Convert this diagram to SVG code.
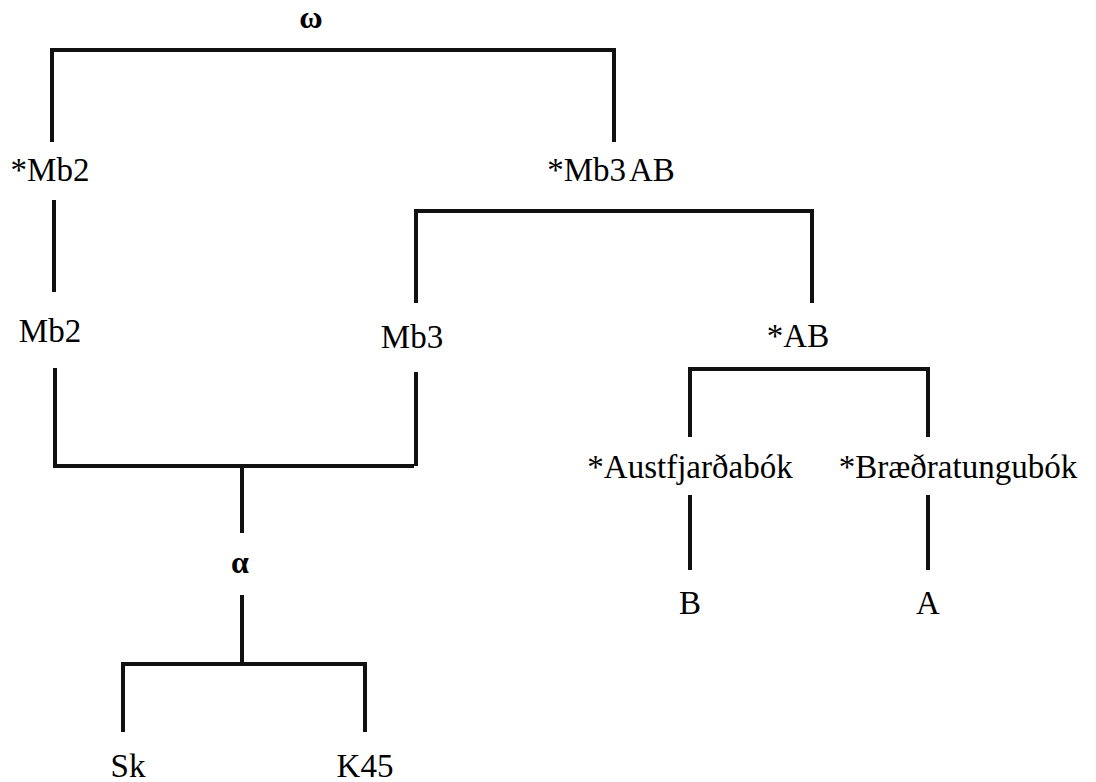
<svg xmlns="http://www.w3.org/2000/svg" width="1096" height="782" viewBox="0 0 1096 782">
<style>
.c{stroke:#111;stroke-width:4;fill:none}
</style>
<rect width="1096" height="782" fill="#fff"/>
<g id="connectors" class="c">
<path d="M52 142V50H614V142"/>
<path d="M54 200V292"/>
<path d="M55 368V466H414"/>
<path d="M416 303V211H812V303"/>
<path d="M416 372V466"/>
<path d="M690 437V369H928V437"/>
<path d="M690 495V570"/>
<path d="M928 495V570"/>
<path d="M242 466V533"/>
<path d="M242 595V664"/>
<path d="M123 732V664H365V732"/>
</g>
<text x="311" y="28" font-family="Times New Roman" font-size="32" font-weight="bold" text-anchor="middle">ω</text>
<text x="50" y="181" font-family="Times New Roman" font-size="33" text-anchor="middle">*Mb2</text>
<text x="611" y="181" font-family="Times New Roman" font-size="33" text-anchor="middle">*Mb3<tspan dx="3">AB</tspan></text>
<text x="50" y="342" font-family="Times New Roman" font-size="33" text-anchor="middle">Mb2</text>
<text x="412" y="348" font-family="Times New Roman" font-size="33" text-anchor="middle">Mb3</text>
<text x="798" y="347" font-family="Times New Roman" font-size="33" text-anchor="middle">*AB</text>
<text x="690" y="478" font-family="Times New Roman" font-size="33" text-anchor="middle">*Austfjarðabók</text>
<text x="958" y="478" font-family="Times New Roman" font-size="33" text-anchor="middle">*Bræðratungubók</text>
<text x="690" y="614" font-family="Times New Roman" font-size="33" text-anchor="middle">B</text>
<text x="928" y="614" font-family="Times New Roman" font-size="33" text-anchor="middle">A</text>
<text x="240" y="573" font-family="Times New Roman" font-size="32" font-weight="bold" text-anchor="middle">α</text>
<text x="128" y="777" font-family="Times New Roman" font-size="33" text-anchor="middle">Sk</text>
<text x="365" y="777" font-family="Times New Roman" font-size="33" text-anchor="middle">K45</text>
</svg>
